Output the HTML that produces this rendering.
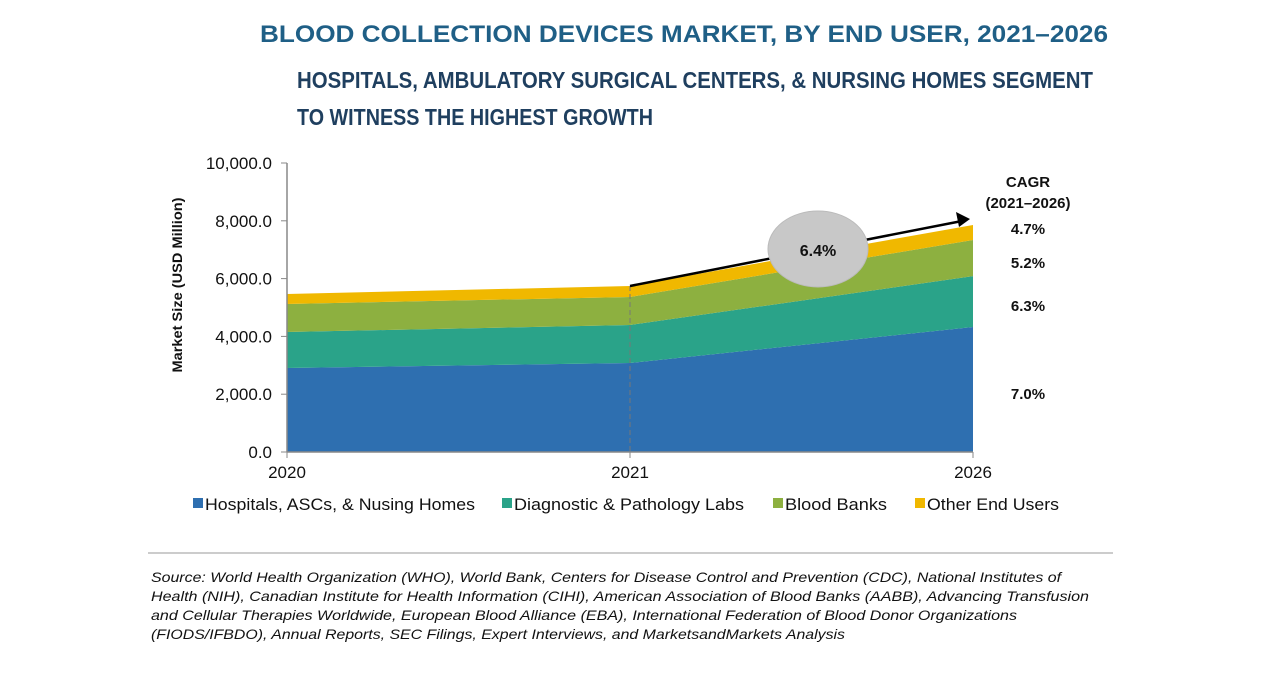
<!DOCTYPE html>
<html><head><meta charset="utf-8"><style>
body{margin:0;background:#fff;width:1280px;height:670px;overflow:hidden;font-family:"Liberation Sans",sans-serif}
</style></head><body>
<svg width="1280" height="670" xmlns="http://www.w3.org/2000/svg">
<text x="260" y="42" textLength="848" lengthAdjust="spacingAndGlyphs" font-size="24" font-weight="bold" fill="#1f5f86">BLOOD COLLECTION DEVICES MARKET, BY END USER, 2021–2026</text>
<text x="297" y="88" textLength="796" lengthAdjust="spacingAndGlyphs" font-size="23" font-weight="bold" fill="#1f3f5f">HOSPITALS, AMBULATORY SURGICAL CENTERS, &amp; NURSING HOMES SEGMENT</text>
<text x="297" y="125" textLength="356" lengthAdjust="spacingAndGlyphs" font-size="23" font-weight="bold" fill="#1f3f5f">TO WITNESS THE HIGHEST GROWTH</text>
<g id="plot"></g>
<text transform="translate(182,285) rotate(-90)" text-anchor="middle" textLength="175" lengthAdjust="spacingAndGlyphs" font-size="14" font-weight="bold" fill="#111">Market Size (USD Million)</text>
<g font-size="15" font-weight="bold" fill="#111" text-anchor="middle">
<text x="1028" y="187">CAGR</text>
<text x="1028" y="208">(2021–2026)</text>
<text x="1028" y="234">4.7%</text>
<text x="1028" y="268">5.2%</text>
<text x="1028" y="311">6.3%</text>
<text x="1028" y="399">7.0%</text>
</g>
<line x1="148" y1="553" x2="1113" y2="553" stroke="#999" stroke-width="1"/>
<g font-size="14" font-style="italic" fill="#111" lengthAdjust="spacingAndGlyphs">
<text x="151" y="582" textLength="910" lengthAdjust="spacingAndGlyphs">Source: World Health Organization (WHO), World Bank, Centers for Disease Control and Prevention (CDC), National Institutes of</text>
<text x="151" y="601" textLength="938" lengthAdjust="spacingAndGlyphs">Health (NIH), Canadian Institute for Health Information (CIHI), American Association of Blood Banks (AABB), Advancing Transfusion</text>
<text x="151" y="620" textLength="866" lengthAdjust="spacingAndGlyphs">and Cellular Therapies Worldwide, European Blood Alliance (EBA), International Federation of Blood Donor Organizations</text>
<text x="151" y="639" textLength="694" lengthAdjust="spacingAndGlyphs">(FIODS/IFBDO), Annual Reports, SEC Filings, Expert Interviews, and MarketsandMarkets Analysis</text>
</g>
</svg>
<script>
const years=["2020","2021","2026"];
const hospitals=[2907,3080,4325];
const diagnostic=[1245,1315,1760];
const bloodBanks=[970,970,1250];
const otherUsers=[345,380,520];
const yTicks=[0,2000,4000,6000,8000,10000];
const seriesNames=["Hospitals, ASCs, & Nusing Homes","Diagnostic & Pathology Labs","Blood Banks","Other End Users"];
const colors=["#2e6fb0","#2aa389","#8db040","#f0b800"];
const NS="http://www.w3.org/2000/svg";
const X0=287,X1=973,Y0=452,Y1=163;
const x=i=>X0+(X1-X0)*i/(years.length-1);
const y=v=>Y0-(Y0-Y1)*v/10000;
const g=document.getElementById('plot');
function mk(t,a){const e=document.createElementNS(NS,t);for(const k in a)e.setAttribute(k,a[k]);g.appendChild(e);return e;}
const series=[hospitals,diagnostic,bloodBanks,otherUsers];
const keys=["hospitals","diagnostic","blood-banks","other"];
let base=years.map(()=>0);
series.forEach((s,si)=>{
  const top=s.map((v,i)=>base[i]+v);
  let d="M"+years.map((_,i)=>x(i)+","+y(top[i])).join(" L");
  for(let i=years.length-1;i>=0;i--)d+=" L"+x(i)+","+y(base[i]);
  const p=mk('path',{d:d+"Z",fill:colors[si]});
  
  
  base=top;
});
const dl=mk('line',{x1:x(1),y1:y(base[1]),x2:x(1),y2:Y0,stroke:"#777","stroke-dasharray":"5,3","stroke-width":1});


const ya=mk('line',{x1:X0,y1:Y1,x2:X0,y2:Y0,stroke:"#888","stroke-width":1.5});


const xa=mk('line',{x1:X0,y1:Y0,x2:X1,y2:Y0,stroke:"#888","stroke-width":1.5});


yTicks.forEach(v=>{
  const tk=mk('line',{x1:X0-6,y1:y(v),x2:X0,y2:y(v),stroke:"#888"});
  
  
  const t=mk('text',{x:272,y:y(v)+6,"text-anchor":"end","font-size":17,fill:"#111"});
  t.textContent=v.toLocaleString('en-US',{minimumFractionDigits:1});
  
  
});
years.forEach((yr,i)=>{
  const tk=mk('line',{x1:x(i),y1:Y0,x2:x(i),y2:Y0+6,stroke:"#888"});
  
  
  const t=mk('text',{x:x(i),y:478,"text-anchor":"middle","font-size":17,fill:"#111"});
  t.textContent=yr;
  
  
});
const ax1=x(1),ay1=y(base[1]),ax2=x(2)-3,ay2=y(base[2])-6;
const ar=mk('line',{x1:ax1,y1:ay1,x2:ax2-8,y2:ay2+2,stroke:"#000","stroke-width":2.5});


const ah=mk('polygon',{points:`${ax2},${ay2} ${ax2-14},${ay2-7} ${ax2-11},${ay2+8}`,fill:"#000"});


const el=mk('ellipse',{cx:818,cy:249,rx:50,ry:38,fill:"#c8c8c8",stroke:"#bbb"});


const et=mk('text',{x:818,y:256,"text-anchor":"middle","font-size":16,"font-weight":"bold",fill:"#111"});
et.textContent="6.4%";


const lx=[193,502,773,915];
const lw=[270,230,102,132];
seriesNames.forEach((n,i)=>{
  const r=mk('rect',{x:lx[i],y:498,width:10,height:10,fill:colors[i]});
  
  
  const t=mk('text',{x:lx[i]+12,y:510,"font-size":17,fill:"#111",textLength:lw[i],lengthAdjust:"spacingAndGlyphs"});
  t.textContent=n;
  
  
});
</script>
</body></html>
